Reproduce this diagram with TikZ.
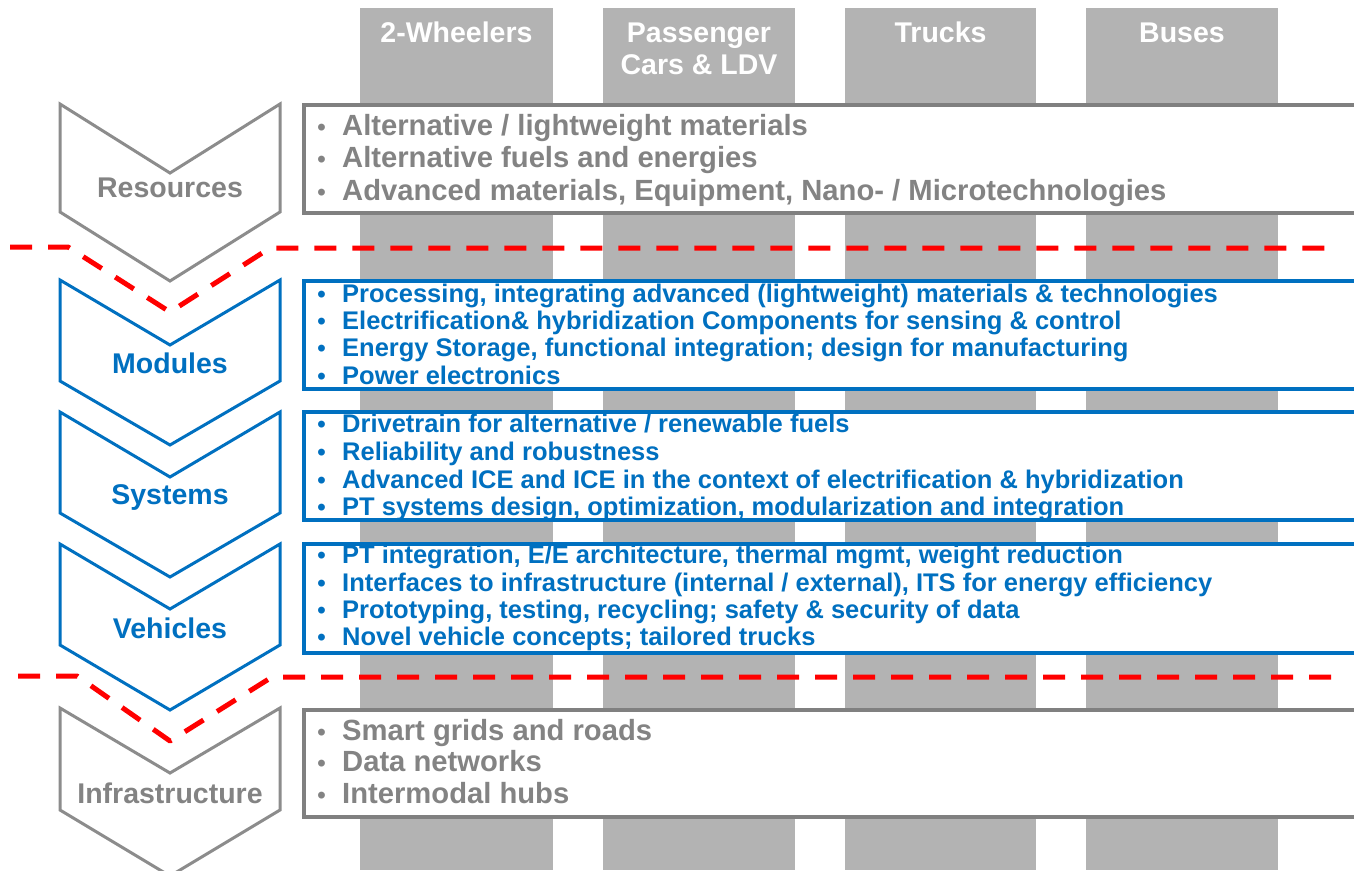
\documentclass[tikz,border=0pt]{standalone}
\usepackage{fontspec}
\setmainfont{Liberation Sans}
\definecolor{colgray}{HTML}{B3B3B3}
\definecolor{boxgray}{HTML}{808080}
\definecolor{chevgray}{HTML}{8C8C8C}
\definecolor{txtgray}{HTML}{838383}
\definecolor{myblue}{HTML}{0070C0}
\newcommand\bul{\llap{\fontsize{24}{24}\selectfont\textbullet\hspace{16.5pt}}}
\newcommand\chev[5]{\draw[#5] (60,#1) -- (170,#2) -- (280,#1) -- (280,#3) -- (170,#4) -- (60,#3) -- cycle;}
\begin{document}
\begin{tikzpicture}[x=1pt,y=-1pt,
  column/.style={fill=colgray},
  hdr/.style={text=white,font=\fontsize{28.5}{32}\selectfont\bfseries,anchor=base,inner sep=0},
  gbox/.style={draw=boxgray,line width=4pt,fill=white},
  bbox/.style={draw=myblue,line width=4pt,fill=white},
  gchev/.style={draw=chevgray,line width=3pt,fill=white,line join=miter},
  bchev/.style={draw=myblue,line width=3pt,fill=white,line join=miter},
  glabel/.style={text=txtgray,font=\fontsize{28.5}{32}\selectfont\bfseries,anchor=base,inner sep=0},
  blabel/.style={text=myblue,font=\fontsize{28.5}{32}\selectfont\bfseries,anchor=base,inner sep=0},
  gtxt/.style={text=txtgray,font=\fontsize{29.2}{32}\selectfont\bfseries,anchor=base west,inner sep=0},
  btxt/.style={text=myblue,font=\fontsize{25.5}{27}\selectfont\bfseries,anchor=base west,inner sep=0},
  reddash/.style={draw=red,line width=5pt,dash pattern=on 22pt off 16pt,line join=round}]
\useasboundingbox (0,0) rectangle (1354,870);
% columns
\fill[column] (360,8) rectangle (553,870);
\fill[column] (603,8) rectangle (795,870);
\fill[column] (845,8) rectangle (1036,870);
\fill[column] (1086,8) rectangle (1278,870);
\node[hdr] (h1) at (456.5,42) {2-Wheelers};
\node[hdr] (h2a) at (699,42) {Passenger};
\node[hdr] (h2b) at (699,74) {Cars \& LDV};
\node[hdr] (h3) at (940.5,42) {Trucks};
\node[hdr] (h4) at (1182,42) {Buses};
% boxes
\draw[gbox] (304,105) rectangle (1380,213);
\draw[bbox] (304,281) rectangle (1380,389);
\draw[bbox] (304,412) rectangle (1380,520);
\draw[bbox] (304,544) rectangle (1380,653);
\draw[gbox] (304,710) rectangle (1380,817);
% chevrons
\chev{104}{173}{212}{281}{gchev}
\chev{280}{345}{381}{445}{bchev}
\chev{412}{477}{513}{577}{bchev}
\chev{544}{609}{645}{710}{bchev}
\chev{708}{773}{810}{876}{gchev}
\node[glabel] (lres) at (170,197) {Resources};
\node[blabel] (lmod) at (170,373) {Modules};
\node[blabel] (lsys) at (170,504) {Systems};
\node[blabel] (lveh) at (170,638) {Vehicles};
\node[glabel] (linf) at (170,803) {Infrastructure};
% texts
\node[gtxt] (r1) at (342,135) {\bul Alternative / lightweight materials};
\node[gtxt] (r2) at (342,167.5) {\bul Alternative fuels and energies};
\node[gtxt] (r3) at (342,200) {\bul Advanced materials, Equipment, Nano- / Microtechnologies};
\node[btxt] (m1) at (342,302) {\bul Processing, integrating advanced (lightweight) materials \& technologies};
\node[btxt] (m2) at (342,329.3) {\bul Electrification\& hybridization Components for sensing \& control};
\node[btxt] (m3) at (342,356.6) {\bul Energy Storage, functional integration; design for manufacturing};
\node[btxt] (m4) at (342,384) {\bul Power electronics};
\node[btxt] (s1) at (342,432) {\bul Drivetrain for alternative / renewable fuels};
\node[btxt] (s2) at (342,460) {\bul Reliability and robustness};
\node[btxt] (s3) at (342,488) {\bul Advanced ICE and ICE in the context of electrification \& hybridization};
\node[btxt] (s4) at (342,515) {\bul PT systems design, optimization, modularization and integration};
\node[btxt] (v1) at (342,563) {\bul PT integration, E/E architecture, thermal mgmt, weight reduction};
\node[btxt] (v2) at (342,591) {\bul Interfaces to infrastructure (internal / external), ITS for energy efficiency};
\node[btxt] (v3) at (342,618) {\bul Prototyping, testing, recycling; safety \& security of data};
\node[btxt] (v4) at (342,645) {\bul Novel vehicle concepts; tailored trucks};
\node[gtxt] (i1) at (342,740) {\bul Smart grids and roads};
\node[gtxt] (i2) at (342,771.5) {\bul Data networks};
\node[gtxt] (i3) at (342,803) {\bul Intermodal hubs};
% dashed separators
\draw[reddash] (10,247) -- (68,247) -- (170,312) -- (270,248) -- (1335,248);
\draw[reddash] (18,676) -- (77,676) -- (170,741) -- (272,677) -- (1335,677);
\end{tikzpicture}
\end{document}
